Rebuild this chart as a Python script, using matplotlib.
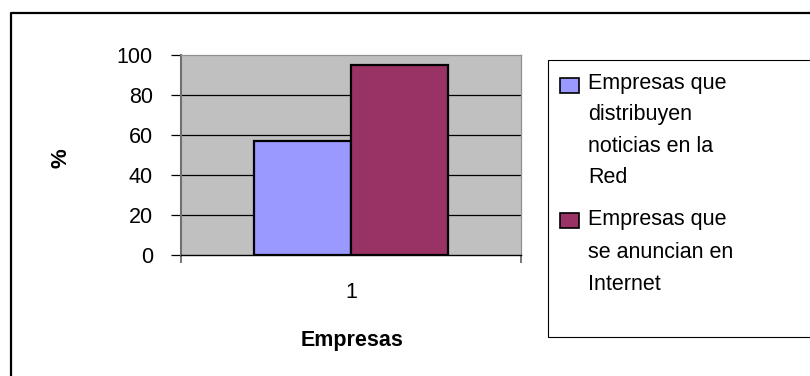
import matplotlib
matplotlib.use("Agg")
import matplotlib.pyplot as plt
import numpy as np
from matplotlib.lines import Line2D
from matplotlib.patches import Rectangle

plt.rcParams['font.family'] = ['Liberation Sans', 'DejaVu Sans']

# Data
categories = ["1"]
series_names = [
    "Empresas que\ndistribuyen\nnoticias en la\nRed",
    "Empresas que\nse anuncian en\nInternet",
]
series_values = [[57], [95]]
series_colors = ["#9999FF", "#993366"]
y_ticks = [0, 20, 40, 60, 80, 100]

W, H = 810, 376
fig = plt.figure(figsize=(W / 100, H / 100), dpi=100)


def fx(px):
    return px / W


def fy(py):
    return 1 - py / H


# Plot area
ax = fig.add_axes([fx(181), fy(255), fx(521) - fx(181), fy(55) - fy(255)])
ax.set_facecolor("#C0C0C0")

x = np.arange(len(categories))
bar_w = 0.285
offsets = [-bar_w / 2, bar_w / 2]
for vals, off, col in zip(series_values, offsets, series_colors):
    ax.bar(x + off, vals, width=bar_w, color=col, edgecolor="black",
           linewidth=1.6, zorder=3)

ax.set_xlim(-0.5, 0.5)
ax.set_ylim(0, 100)
ax.set_yticks(y_ticks)
ax.set_yticklabels([str(v) for v in y_ticks])
ax.set_xticks(x)
ax.set_xticklabels(categories)
ax.set_xticks([-0.5, 0.5], minor=True)

for v in y_ticks[1:-1]:
    ax.axhline(v, color="black", linewidth=0.9, zorder=1)

ax.tick_params(axis="y", which="major", direction="out", length=7.2,
               width=0.9, color="black", pad=13, labelsize=15.5)
ax.tick_params(axis="x", which="major", length=0, pad=19.5, labelsize=15.5)
ax.tick_params(axis="x", which="minor", direction="out", length=5.5,
               width=1.2, color="#606060")

ax.spines["top"].set_color("#909090")
ax.spines["top"].set_linewidth(0.9)
ax.spines["right"].set_color("#909090")
ax.spines["right"].set_linewidth(0.9)
ax.spines["left"].set_color("#707070")
ax.spines["left"].set_linewidth(1.5)
ax.spines["bottom"].set_color("black")
ax.spines["bottom"].set_linewidth(1.0)

ax.set_ylabel("%", fontsize=16, fontweight="bold")
ax.yaxis.set_label_coords((72 - 181) / 340, (255 - 158) / 200)
ax.set_xlabel("Empresas", fontsize=15.5, fontweight="bold")
ax.xaxis.set_label_coords((352 - 181) / 340, (255 - 330) / 200)

# Outer chart border (open at right and bottom edges)
fig.add_artist(Line2D([fx(11), fx(11), fx(812)], [fy(380), fy(13), fy(13)],
                      transform=fig.transFigure, color="black", linewidth=1.6))

# Legend box
fig.add_artist(Rectangle((fx(548), fy(337)), fx(830) - fx(548), fy(60) - fy(337),
                         transform=fig.transFigure, facecolor="white",
                         edgecolor="black", linewidth=0.8, zorder=0))

# (first-line baseline, line pitch) for each legend entry
legend_rows = [(93, 30), (228, 31)]
for name, col, (base, pitch) in zip(series_names, series_colors, legend_rows):
    n_lines = name.count("\n")
    fig.add_artist(Rectangle((fx(560), fy(base)), fx(579) - fx(560),
                             fy(base - 15) - fy(base),
                             transform=fig.transFigure, facecolor=col,
                             edgecolor="black", linewidth=1.2, zorder=2))
    fig.text(fx(588), fy(base + n_lines * pitch), name, fontsize=15.5,
             ha="left", va="baseline", linespacing=1.65 * pitch / 30,
             zorder=3)

fig.savefig("out.png", dpi=100)
